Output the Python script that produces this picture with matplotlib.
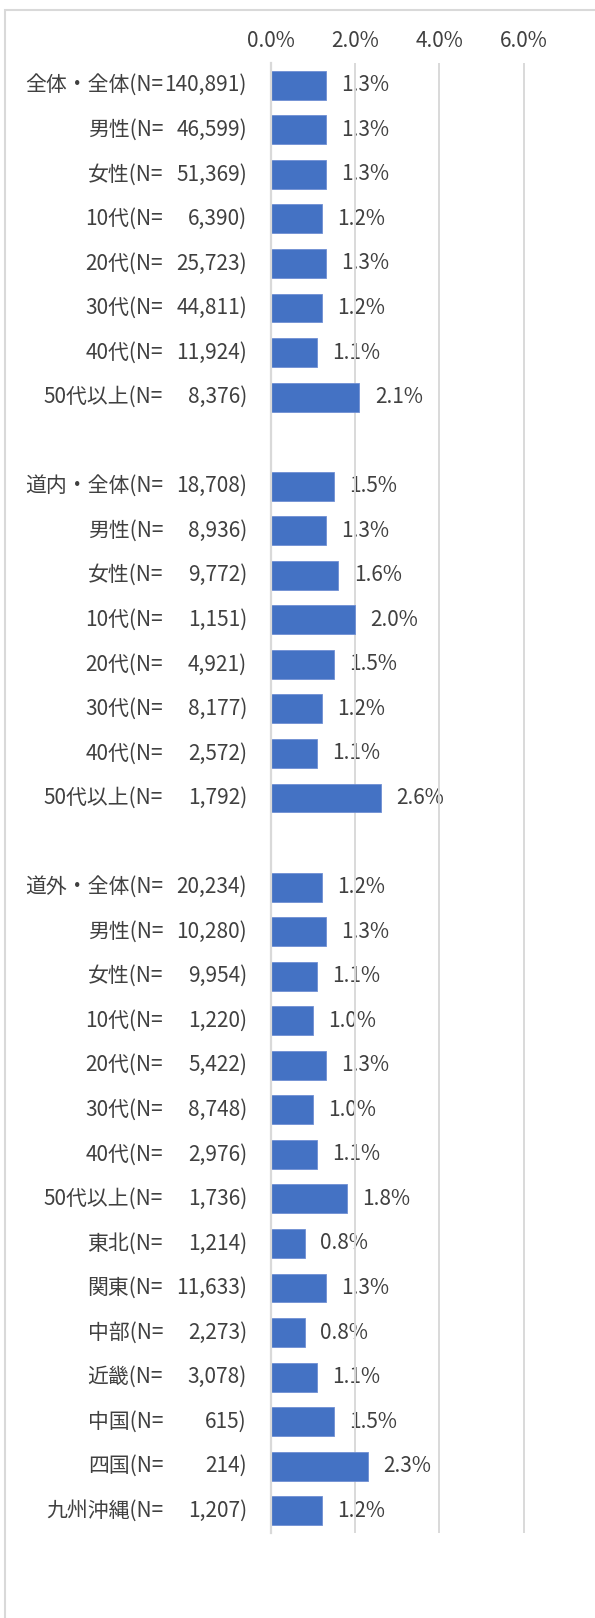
import matplotlib
matplotlib.use("Agg")
import matplotlib.pyplot as plt
from matplotlib.patches import Rectangle

plt.rcParams['font.family'] = ['Noto Sans CJK JP', 'DejaVu Sans']

# ---- data ----
g1_names = ["全体・全体", "男性", "女性", "10代", "20代", "30代", "40代", "50代以上"]
g1_n = [140891, 46599, 51369, 6390, 25723, 44811, 11924, 8376]
g1_vals = [1.3, 1.3, 1.3, 1.2, 1.3, 1.2, 1.1, 2.1]

g2_names = ["道内・全体", "男性", "女性", "10代", "20代", "30代", "40代", "50代以上"]
g2_n = [18708, 8936, 9772, 1151, 4921, 8177, 2572, 1792]
g2_vals = [1.5, 1.3, 1.6, 2.0, 1.5, 1.2, 1.1, 2.6]

g3_names = ["道外・全体", "男性", "女性", "10代", "20代", "30代", "40代", "50代以上",
            "東北", "関東", "中部", "近畿", "中国", "四国", "九州沖縄"]
g3_n = [20234, 10280, 9954, 1220, 5422, 8748, 2976, 1736,
        1214, 11633, 2273, 3078, 615, 214, 1207]
g3_vals = [1.2, 1.3, 1.1, 1.0, 1.3, 1.0, 1.1, 1.8,
           0.8, 1.3, 0.8, 1.1, 1.5, 2.3, 1.2]

x_ticks = [0, 2, 4, 6]

# ---- layout of rows (one blank row between groups) ----
names, ns, vals, pos = [], [], [], []
row = 0
for gn, gN, gv in [(g1_names, g1_n, g1_vals), (g2_names, g2_n, g2_vals), (g3_names, g3_n, g3_vals)]:
    for a, b, c in zip(gn, gN, gv):
        names.append(a); ns.append(b); vals.append(c); pos.append(row)
        row += 1
    row += 1
last_row = row - 2

W, H = 595, 1618
fig = plt.figure(figsize=(W / 100, H / 100), dpi=100)
ax_left, ax_right, ax_top, ax_bottom = 271, 530, 63, 1533
ax = fig.add_axes([ax_left / W, 1 - ax_bottom / H, (ax_right - ax_left) / W, (ax_bottom - ax_top) / H])

TXT = '#404040'
FS = 15

ax.barh(pos, vals, height=0.65, color='#4472C4', edgecolor='#6f8fd3', linewidth=0.6, zorder=2)
ax.set_ylim(last_row + 0.5, -0.5)
ax.set_xlim(0, 6 * (ax_right - ax_left) / (523.7 - ax_left))
ax.set_xticks(x_ticks)
ax.set_xticklabels([f"{t:.1f}%" for t in x_ticks])
ax.xaxis.tick_top()
ax.tick_params(axis='x', length=0, pad=8, labelsize=FS, labelcolor=TXT)
ax.set_yticks([])
ax.grid(axis='x', color='#d9d9d9', linewidth=1.4)
ax.set_axisbelow('line')
for s in ['top', 'right', 'bottom']:
    ax.spines[s].set_visible(False)
ax.spines['left'].set_color('#d9d9d9')
ax.spines['left'].set_linewidth(1.6)

ytr = ax.get_yaxis_transform()
for name, n, v, y in zip(names, ns, vals, pos):
    ax.annotate(f"{v:.1f}%", xy=(v, y), xytext=(11, 0), textcoords='offset points',
                ha='left', va='center', fontsize=FS, color=TXT, zorder=1)
    ax.annotate(f"{name}(N=", xy=(0, y), xycoords=ytr, xytext=(-(ax_left - 163) * 0.72, 0),
                textcoords='offset points', ha='right', va='center', fontsize=FS, color=TXT,
                annotation_clip=False)
    ax.annotate(f"{n:,})", xy=(0, y), xycoords=ytr, xytext=(-(ax_left - 247) * 0.72, 0),
                textcoords='offset points', ha='right', va='center', fontsize=FS, color=TXT,
                annotation_clip=False)

fig.add_artist(Rectangle((5 / W, -0.05), 1.2, (1 - 9.5 / H) + 0.05, transform=fig.transFigure,
                         fill=False, edgecolor='#d9d9d9', linewidth=1.5))

fig.savefig("out.png", dpi=100, facecolor='white')
